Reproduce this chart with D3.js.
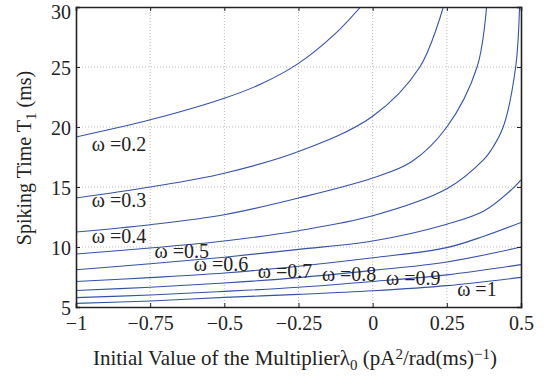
<!DOCTYPE html>
<html>
<head>
<meta charset="utf-8">
<script src="https://cdn.jsdelivr.net/npm/d3@7"></script>
<style>
  body { margin: 0; background: #fff; }
  text { font-family: "Liberation Serif", "Times New Roman", serif; fill: #222; }
</style>
</head>
<body>
<div id="chart"></div>
<script>
// x ticks (initial multiplier) and y ticks (spiking time)
const xTicks = [-1, -0.75, -0.5, -0.25, 0, 0.25, 0.5];
const yTicks = [5, 10, 15, 20, 25, 30];

// omega values, one curve each
const omegas = [0.2, 0.3, 0.4, 0.5, 0.6, 0.7, 0.8, 0.9, 1];

// curves: [lambda0, T1]
const curve02 = [[-1, 19.17], [-0.75, 20.6], [-0.5, 22.4], [-0.375, 23.6], [-0.25, 25.3], [-0.125, 27.8], [-0.041, 30]];
const curve03 = [[-1, 14.08], [-0.75, 15.0], [-0.5, 16.15], [-0.25, 17.95], [0, 20.9], [0.159, 25], [0.238, 30]];
const curve04 = [[-1, 11.25], [-0.75, 11.86], [-0.5, 12.69], [-0.25, 14.08], [0, 15.75], [0.131, 17.1], [0.25, 20.0], [0.352, 25], [0.384, 30]];
const curve05 = [[-1, 9.42], [-0.75, 9.92], [-0.5, 10.5], [-0.25, 11.36], [0, 12.6], [0.25, 14.85], [0.375, 17.3], [0.40, 18.1], [0.44, 20], [0.482, 25], [0.495, 30]];
const curve06 = [[-1, 8.1], [-0.75, 8.6], [-0.5, 9.15], [-0.25, 9.8], [0, 10.5], [0.25, 11.9], [0.375, 13.0], [0.469, 14.8], [0.5, 15.6]];
const curve07 = [[-1, 7.13], [-0.75, 7.45], [-0.5, 7.83], [-0.25, 8.4], [0, 9.1], [0.25, 9.95], [0.375, 10.9], [0.5, 12.05]];
const curve08 = [[-1, 6.38], [-0.75, 6.65], [-0.5, 7.0], [-0.25, 7.45], [0, 8.05], [0.25, 8.75], [0.5, 10.0]];
const curve09 = [[-1, 5.78], [-0.75, 6.0], [-0.5, 6.3], [-0.25, 6.65], [0, 7.13], [0.25, 7.68], [0.5, 8.53]];
const curve10 = [[-1, 5.3], [-0.75, 5.5], [-0.5, 5.8], [-0.25, 6.05], [0, 6.35], [0.25, 6.78], [0.5, 7.47]];
const curves = [curve02, curve03, curve04, curve05, curve06, curve07, curve08, curve09, curve10];

// where each omega label sits, in data units [lambda0, T1]
const labelAt = [[-0.947, 18.0], [-0.947, 13.3], [-0.947, 10.35], [-0.735, 9.1], [-0.603, 8.0],
                 [-0.387, 7.45], [-0.171, 7.2], [0.045, 6.85], [0.285, 5.95]];

const width = 548, height = 379;
const margin = {left: 76, right: 27, top: 7, bottom: 72};

const svg = d3.select("#chart").append("svg")
  .attr("width", width)
  .attr("height", height);

const xScale = d3.scaleLinear()
  .domain([-1, 0.5])
  .range([margin.left, width - margin.right]);

const yScale = d3.scaleLinear()
  .domain([5, 30])
  .range([height - margin.bottom, margin.top]);

const fmt = d => d3.format("")(d).replace("-", "\u2212");

// dotted grid
svg.append("g")
  .selectAll("line")
  .data(xTicks.slice(1, -1))
  .enter().append("line")
  .attr("x1", d => xScale(d)).attr("x2", d => xScale(d))
  .attr("y1", yScale(5)).attr("y2", yScale(30))
  .attr("stroke", "#bbb").attr("stroke-dasharray", "1,2");

svg.append("g")
  .selectAll("line")
  .data(yTicks.slice(1, -1))
  .enter().append("line")
  .attr("y1", d => yScale(d)).attr("y2", d => yScale(d))
  .attr("x1", xScale(-1)).attr("x2", xScale(0.5))
  .attr("stroke", "#bbb").attr("stroke-dasharray", "1,2");

// curves, clipped to the plot box
svg.append("clipPath").attr("id", "plotclip")
  .append("rect")
  .attr("x", xScale(-1)).attr("y", yScale(30))
  .attr("width", xScale(0.5) - xScale(-1))
  .attr("height", yScale(5) - yScale(30));

const line = d3.line()
  .x(d => xScale(d[0]))
  .y(d => yScale(d[1]))
  .curve(d3.curveCatmullRom.alpha(0.5));

svg.append("g")
  .attr("clip-path", "url(#plotclip)")
  .selectAll("path")
  .data(curves)
  .enter().append("path")
  .attr("d", line)
  .attr("fill", "none")
  .attr("stroke", "#3353ab")
  .attr("stroke-width", 1.1);

// axes, matlab style: ticks inside, on all four sides
const xAxis = d3.axisBottom(xScale).tickValues(xTicks).tickSize(-4).tickPadding(9).tickFormat(fmt);
const yAxis = d3.axisLeft(yScale).tickValues(yTicks).tickSize(-4).tickPadding(5).tickFormat(fmt);

svg.append("g")
  .attr("transform", "translate(0," + yScale(5) + ")")
  .call(xAxis);

const gy = svg.append("g")
  .attr("transform", "translate(" + xScale(-1) + ",0)")
  .call(yAxis);
// top label sits a little lower, as in the picture
gy.selectAll(".tick text").attr("dy", d => d === 30 ? "0.55em" : "0.38em");

svg.append("g")
  .attr("transform", "translate(0," + yScale(30) + ")")
  .call(d3.axisTop(xScale).tickValues(xTicks).tickSize(-4).tickFormat(""));

svg.append("g")
  .attr("transform", "translate(" + xScale(0.5) + ",0)")
  .call(d3.axisRight(yScale).tickValues(yTicks).tickSize(-4).tickFormat(""));

svg.selectAll(".domain").attr("stroke", "#222").attr("stroke-width", 1.6);
svg.selectAll(".tick line").attr("stroke", "#222");
svg.selectAll(".tick text")
  .style("font-family", "'Liberation Serif', 'Times New Roman', serif")
  .style("font-size", "20px")
  .attr("fill", "#222");

// omega labels
svg.append("g")
  .selectAll("text")
  .data(omegas)
  .enter().append("text")
  .attr("x", (d, i) => xScale(labelAt[i][0]))
  .attr("y", (d, i) => yScale(labelAt[i][1]))
  .style("font-size", "20px")
  .text(d => "\u03c9 =" + d);

// x title
const xt = svg.append("text")
  .attr("x", 295)
  .attr("y", 365)
  .attr("text-anchor", "middle")
  .style("font-size", "21px");
xt.append("tspan").text("Initial Value of the Multiplier\u03bb");
xt.append("tspan").attr("baseline-shift", "-30%").style("font-size", "15px").text("0");
xt.append("tspan").text(" (pA");
xt.append("tspan").attr("baseline-shift", "40%").style("font-size", "15px").text("2");
xt.append("tspan").text("/rad(ms)");
xt.append("tspan").attr("baseline-shift", "40%").style("font-size", "15px").text("\u22121");
xt.append("tspan").text(")");

// y title
const yt = svg.append("text")
  .attr("transform", "translate(31,158) rotate(-90)")
  .attr("text-anchor", "middle")
  .style("font-size", "20px");
yt.append("tspan").text("Spiking Time T");
yt.append("tspan").attr("baseline-shift", "-30%").style("font-size", "15px").text("1");
yt.append("tspan").text(" (ms)");
</script>
</body>
</html>
